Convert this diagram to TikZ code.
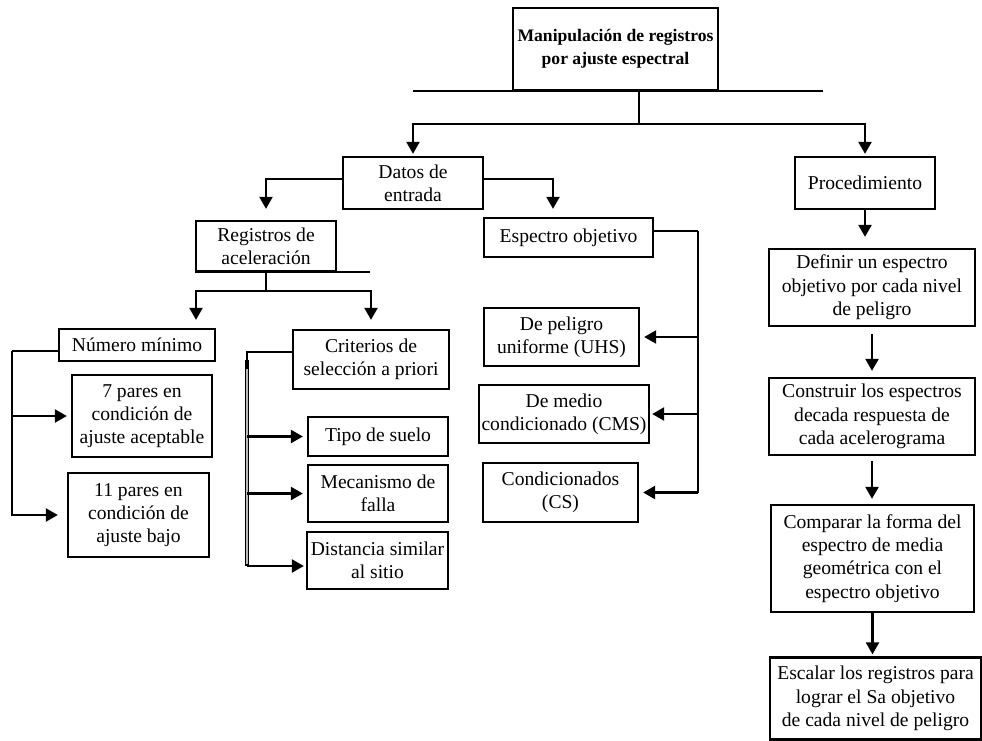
\documentclass[tikz,border=0pt]{standalone}
\usepackage{fontspec}
\setmainfont{Liberation Serif}
\usetikzlibrary{arrows.meta}
\newcommand\bodytxt{\fontsize{19.6}{23.3}\selectfont}
\newcommand\titletxt{\fontsize{17.6}{23}\selectfont\bfseries}
\begin{document}
\begin{tikzpicture}[x=1pt,y=-1pt,
  box/.style={draw, line width=2.3pt, inner sep=0pt, align=center, font=\bodytxt},
  ln/.style={line width=2.3pt},
  arr/.style={line width=2.3pt, -{Triangle[length=12pt,width=13pt]}}]
\useasboundingbox (0,0) rectangle (982,740);

% title
\node[box, minimum width=205pt, minimum height=82pt, font=\titletxt] (top) at (615.5,49)
  {Manipulación de registros\\por ajuste espectral};

% second level
\node[box, minimum width=140pt, minimum height=52pt] (datos) at (413,183) {Datos de\\entrada};
\node[box, minimum width=140pt, minimum height=52pt] (proc) at (865,183) {Procedimiento};

% inputs
\node[box, minimum width=140pt, minimum height=50pt] (reg) at (266,246) {Registros de\\aceleración};
\node[box, minimum width=169pt, minimum height=39pt] (esp) at (568.5,237.5) {Espectro objetivo};

\node[box, minimum width=156pt, minimum height=32pt] (num) at (137,345) {Número mínimo};
\node[box, minimum width=156pt, minimum height=59pt] (crit) at (371,359.5) {Criterios de\\selección a priori};
\node[box, minimum width=140pt, minimum height=82pt] (siete) at (142,416) {7 pares en\\condición de\\ajuste aceptable};
\node[box, minimum width=141pt, minimum height=84pt] (once) at (138.5,515) {11 pares en\\condición de\\ajuste bajo};
\node[box, minimum width=140pt, minimum height=39pt] (tipo) at (378,436.5) {Tipo de suelo};
\node[box, minimum width=140pt, minimum height=57pt] (meca) at (378,493.5) {Mecanismo de\\falla};
\node[box, minimum width=141pt, minimum height=57pt] (dist) at (377.5,560.5) {Distancia similar\\al sitio};

\node[box, minimum width=155pt, minimum height=58pt] (uhs) at (561.5,337) {De peligro\\uniforme (UHS)};
\node[box, minimum width=170pt, minimum height=58pt] (cms) at (564,414) {De medio\\condicionado (CMS)};
\node[box, minimum width=155pt, minimum height=59pt] (cs) at (560.5,492.5) {Condicionados\\(CS)};

% procedure
\node[box, minimum width=206pt, minimum height=77pt] (def) at (872,287.5) {Definir un espectro\\objetivo por cada nivel\\de peligro};
\node[box, minimum width=206pt, minimum height=77pt] (cons) at (872,416.5) {Construir los espectros\\decada respuesta de\\cada acelerograma};
\node[box, minimum width=203pt, minimum height=107pt] (comp) at (872.5,558.5) {Comparar la forma del\\espectro de media\\geométrica con el\\espectro objetivo};
\node[box, minimum width=211pt, minimum height=82pt] (esc) at (875.5,698.5) {Escalar los registros para\\lograr el Sa objetivo\\de cada nivel de peligro};

% title branches
\draw[ln] ([xshift=-99pt]top.south west) -- ([xshift=104pt]top.south east);
\coordinate (tj) at (639,124);
\draw[ln] (top.south -| tj) -- (tj);
\draw[arr, shorten >=2pt] (tj) -| (datos.north);
\draw[arr, shorten >=2pt] (tj) -| (proc.north);

% input data branches
\draw[arr, shorten >=11pt] ([yshift=4pt]datos.west) -| (reg.north);
\draw[arr, shorten >=8pt] ([yshift=4pt]datos.east) -| ([xshift=-15.5pt]esp.north);

% acceleration records
\draw[ln] (reg.south west) -- ([xshift=33pt]reg.south east);
\coordinate (rj) at (266,291);
\draw[ln] (reg.south) -- (rj);
\draw[arr, shorten >=8pt] (rj) -| ([xshift=59pt]num.north);
\draw[arr, shorten >=9pt] (rj) -| (crit.north);

% minimum number
\draw[ln] ([yshift=-6pt]num.west) -- ++(-46pt,0) coordinate (nl);
\draw[arr, shorten >=9pt] (nl) |- (once.west);
\draw[arr, shorten >=4pt] (nl |- siete.west) -- (siete.west);

% selection criteria (double rail)
\coordinate (cb) at (247,566);
\draw[ln] ([yshift=7.5pt]crit.west) -| (cb);
\draw[line width=3.8pt] (cb |- crit.west) -- (cb);
\draw[gray!55, line width=1.2pt] ([yshift=-9pt]cb |- crit.west) -- ([yshift=2pt]cb);
\draw[arr, shorten >=2pt] (cb) -- ([yshift=-5.5pt]dist.west);
\draw[arr, shorten >=4pt] (cb |- tipo.west) -- (tipo.west);
\draw[arr, shorten >=4pt] (cb |- meca.west) -- (meca.west);

% target spectrum
\draw[ln] ([yshift=6.5pt]esp.east) -- ++(44pt,0) coordinate (er);
\draw[ln] (er) -- (er |- cs.east);
\draw[arr, shorten >=4pt] (er |- uhs.east) -- (uhs.east);
\draw[arr, shorten >=2pt] (er |- cms.east) -- (cms.east);
\draw[arr, shorten >=4pt] (er |- cs.east) -- (cs.east);

% procedure chain
\draw[arr, shorten >=11pt] (proc.south) -- (proc.south |- def.north);
\draw[arr, shorten <=7pt, shorten >=6pt] (def.south) -- (cons.north);
\draw[arr, shorten <=5pt, shorten >=5pt] (cons.south) -- (cons.south |- comp.north);
\draw[arr, shorten >=2pt] (comp.south) -- (comp.south |- esc.north);
\end{tikzpicture}
\end{document}
